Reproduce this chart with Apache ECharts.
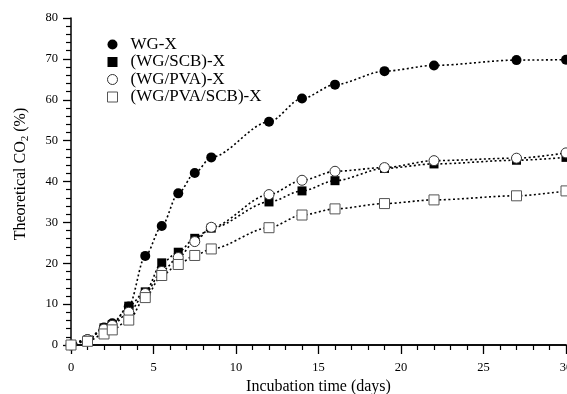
<!DOCTYPE html>
<html>
<head>
<meta charset="utf-8">
<script src="https://cdn.jsdelivr.net/npm/echarts@6/dist/echarts.min.js"></script>
<style>html,body{margin:0;padding:0;background:#fff}#c{width:567px;height:394px}</style>
</head>
<body>
<div id="c"></div>
<script>
const days = [0, 1, 2, 2.5, 3.5, 4.5, 5.5, 6.5, 7.5, 8.5, 12, 14, 16, 19, 22, 27, 30];
const wgX = [0, 1.4, 4.3, 5.3, 9.4, 21.8, 29.1, 37.1, 42.1, 45.9, 54.6, 60.3, 63.7, 67.0, 68.4, 69.7, 69.8];
const wgScbX = [0, 1.2, 4.2, 5.0, 9.5, 13.0, 20.1, 22.7, 26.1, 28.6, 35.0, 37.7, 40.2, 43.2, 44.3, 45.2, 45.9];
const wgPvaX = [0, 1.3, 3.9, 4.8, 8.0, 12.6, 18.0, 21.4, 25.3, 28.8, 36.8, 40.3, 42.5, 43.4, 45.1, 45.7, 47.0];
const wgPvaScbX = [0, 0.9, 2.7, 3.7, 6.1, 11.6, 17.0, 19.7, 21.9, 23.5, 28.7, 31.8, 33.3, 34.6, 35.5, 36.5, 37.7];
const seriesNames = ['WG-X', '(WG/SCB)-X', '(WG/PVA)-X', '(WG/PVA/SCB)-X'];
const xTicks = [0, 5, 10, 15, 20, 25, 30];
const yTicks = [0, 10, 20, 30, 40, 50, 60, 70, 80];

const font = 'Liberation Serif';
function pairs(vals) { return days.map((d, i) => [d, vals[i]]); }
const styles = [
  {symbol: 'circle', size: 10, item: {color: '#000'}},
  {symbol: 'rect', size: 9, item: {color: '#000'}},
  {symbol: 'circle', size: 10, item: {color: '#fff', borderColor: '#333', borderWidth: 1}},
  {symbol: 'rect', size: 10, item: {color: '#fff', borderColor: '#555', borderWidth: 1}}
];
const allVals = [wgX, wgScbX, wgPvaX, wgPvaScbX];
const series = allVals.map((v, i) => ({
  name: seriesNames[i],
  type: 'line',
  smooth: 0.3,
  smoothMonotone: 'x',
  data: pairs(v),
  symbol: styles[i].symbol,
  symbolSize: styles[i].size,
  itemStyle: styles[i].item,
  lineStyle: {color: '#000', width: 1.6, type: [2, 2.5]},
  emphasis: {disabled: true},
  clip: false,
  z: 2 + i
}));

const chart = echarts.init(document.getElementById('c'), null, {renderer: 'canvas'});
chart.setOption({
  animation: false,
  backgroundColor: '#fff',
  grid: {left: 71, top: 18, right: 1, bottom: 49, containLabel: false, outerBoundsMode: 'none'},
  legend: {
    orient: 'vertical', left: 102, top: 31, itemGap: 0.5, itemWidth: 10, itemHeight: 10,
    textStyle: {fontFamily: font, fontSize: 17, color: '#000', padding: [0, 0, 0, 8]},
    data: seriesNames.map((n, i) => ({name: n, icon: styles[i].symbol,
      itemStyle: i === 1 ? {color: '#000'} : styles[i].item}))
  },
  xAxis: [{
    type: 'value', min: 0, max: 30, interval: 5,
    name: 'Incubation time (days)', nameLocation: 'middle', nameGap: 30,
    nameTextStyle: {fontFamily: font, fontSize: 16, color: '#000'},
    axisLine: {show: true, onZero: false, lineStyle: {color: '#000', width: 1.5}},
    axisTick: {show: true, length: 9, lineStyle: {color: '#000', width: 1.3}},
    minorTick: {show: true, splitNumber: 5, length: 5, lineStyle: {color: '#000', width: 1.2}},
    splitLine: {show: false},
    axisLabel: {fontFamily: font, fontSize: 12.5, color: '#000', margin: 16, hideOverlap: false,
      formatter: v => xTicks.includes(v) ? String(v) : ''}
  }, {
    type: 'value', min: 0, max: 30, position: 'top',
    axisLine: {show: true, lineStyle: {color: '#000', width: 1.5}},
    axisTick: {show: false}, axisLabel: {show: false}, splitLine: {show: false}
  }],
  yAxis: {
    type: 'value', min: 0, max: 80, interval: 10,
    name: '{a|Theoretical CO}{s|2}{a| (%)}', nameLocation: 'middle', nameGap: 40,
    nameTextStyle: {fontFamily: font, fontSize: 16, color: '#000', padding: [0, 0, 0, 15],
      rich: {a: {fontFamily: font, fontSize: 16, color: '#000'},
             s: {fontFamily: font, fontSize: 11, color: '#000', padding: [9, 0, 0, 0]}}},
    axisLine: {show: true, onZero: false, lineStyle: {color: '#000', width: 1.5}},
    axisTick: {show: true, length: 8, lineStyle: {color: '#000', width: 1.3}},
    minorTick: {show: true, splitNumber: 5, length: 5, lineStyle: {color: '#000', width: 1.2}},
    splitLine: {show: false},
    axisLabel: {fontFamily: font, fontSize: 12.5, color: '#000', margin: 13,
      formatter: v => yTicks.includes(v) ? String(v) : ''}
  },
  series: series
});
</script>
</body>
</html>
